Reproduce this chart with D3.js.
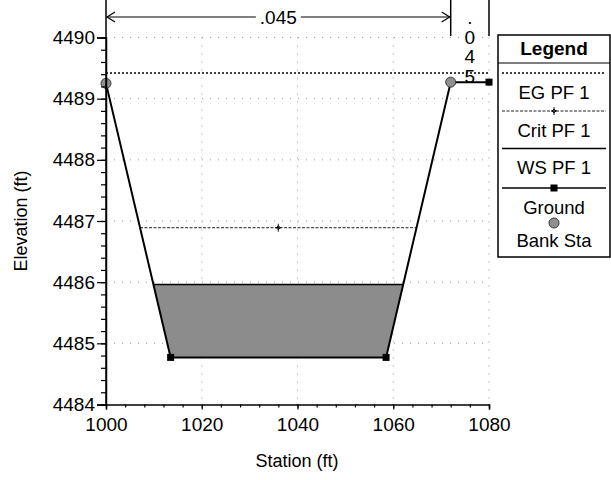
<!DOCTYPE html>
<html>
<head>
<meta charset="utf-8">
<script src="https://cdn.jsdelivr.net/npm/d3@7"></script>
<style>
  body { margin: 0; background: #fff; }
  svg { display: block; }
  text { font-family: "Liberation Sans", Arial, sans-serif; fill: #000; }
</style>
</head>
<body>
<svg id="chart" width="611" height="480"></svg>
<script>
// Cross-section ground geometry (station ft, elevation ft)
const groundStation = [1000, 1013.5, 1058.5, 1072, 1080];
const groundElev    = [4489.25, 4484.77, 4484.77, 4489.27, 4489.27];
const bankStations  = [1000, 1072];

// Profile PF 1 water levels (ft)
const egElev   = 4489.42;
const critElev = 4486.89;
const wsElev   = 4485.96;

// Manning's n regions
const nBreaks = [1000, 1072, 1080];
const nValues = [".045", ".045"];

// Axis ticks
const xTicks = [1000, 1020, 1040, 1060, 1080];
const yTicks = [4484, 4485, 4486, 4487, 4488, 4489, 4490];
const xMinorStep = 4;
const yMinorStep = 0.2;

const legendLabels = ["EG PF 1", "Crit PF 1", "WS PF 1", "Ground", "Bank Sta"];

const svg = d3.select("#chart");
const x = d3.scaleLinear().domain([1000, 1080]).range([106, 489]);
const y = d3.scaleLinear().domain([4484, 4490]).range([404.5, 37.5]);

const ground = groundStation.map((s, i) => ({ s, z: groundElev[i] }));

// Where a horizontal water level meets the ground on each side of the channel
function waterEdges(z) {
  const iMin = d3.minIndex(ground, d => d.z);
  let left = null, right = null;
  for (let i = iMin; i > 0; i--) {
    const a = ground[i], b = ground[i - 1];
    if (b.z >= z) { left = a.s + (b.s - a.s) * (z - a.z) / (b.z - a.z); break; }
  }
  for (let i = iMin; i < ground.length - 1; i++) {
    const a = ground[i], b = ground[i + 1];
    if (b.z >= z) { right = a.s + (b.s - a.s) * (z - a.z) / (b.z - a.z); break; }
  }
  return [left, right];
}

// Grid
const grid = svg.append("g").attr("stroke", "#999").attr("stroke-width", 1)
  .attr("stroke-dasharray", "1,7");
yTicks.slice(1).forEach(v => grid.append("line")
  .attr("x1", x(1000)).attr("x2", x(1080)).attr("y1", y(v)).attr("y2", y(v)));
xTicks.slice(1).forEach(v => grid.append("line")
  .attr("x1", x(v)).attr("x2", x(v)).attr("y1", y(4490)).attr("y2", y(4484)));

// Water area below WS
const [wsL, wsR] = waterEdges(wsElev);
const waterPoly = [{ s: wsL, z: wsElev }]
  .concat(ground.filter(d => d.s > wsL && d.s < wsR))
  .concat([{ s: wsR, z: wsElev }]);
svg.append("path")
  .attr("d", d3.line().x(d => x(d.s)).y(d => y(d.z))(waterPoly) + "Z")
  .attr("fill", "#8c8c8c");
svg.append("line")
  .attr("x1", x(wsL)).attr("x2", x(wsR)).attr("y1", y(wsElev)).attr("y2", y(wsElev))
  .attr("stroke", "#000").attr("stroke-width", 1.5);

// Critical depth line
const [crL, crR] = waterEdges(critElev);
svg.append("line")
  .attr("x1", x(crL)).attr("x2", x(crR)).attr("y1", y(critElev)).attr("y2", y(critElev))
  .attr("stroke", "#222").attr("stroke-width", 1).attr("stroke-dasharray", "3,1.5");
function critMarker(g, cx, cy) {
  g.append("path")
    .attr("d", `M${cx - 3},${cy}L${cx + 3},${cy}M${cx},${cy - 4}L${cx},${cy + 4}M${cx - 2},${cy}L${cx},${cy - 2}L${cx + 2},${cy}L${cx},${cy + 2}Z`)
    .attr("fill", "none").attr("stroke", "#000").attr("stroke-width", 0.9);
}
critMarker(svg, x((crL + crR) / 2), y(critElev));

// Energy grade line
svg.append("line")
  .attr("x1", x(1000)).attr("x2", x(1080)).attr("y1", y(egElev)).attr("y2", y(egElev))
  .attr("stroke", "#000").attr("stroke-width", 1.6).attr("stroke-dasharray", "2,2");

// Ground line and points
svg.append("path")
  .attr("d", d3.line().x(d => x(d.s)).y(d => y(d.z))(ground))
  .attr("fill", "none").attr("stroke", "#000").attr("stroke-width", 2);
svg.selectAll("rect.gpt").data(ground.filter(d => !bankStations.includes(d.s)))
  .join("rect").attr("class", "gpt")
  .attr("x", d => x(d.s) - 3.5).attr("y", d => y(d.z) - 3.5)
  .attr("width", 7).attr("height", 7).attr("fill", "#000");

// Bank stations
function bankMarker(g, cx, cy) {
  g.append("circle").attr("cx", cx).attr("cy", cy).attr("r", 5)
    .attr("fill", "#8f8f8f").attr("stroke", "#3a3a3a").attr("stroke-width", 1);
}
ground.filter(d => bankStations.includes(d.s)).forEach(d => bankMarker(svg, x(d.s), y(d.z)));

// Axes
const fontSize = 19;
svg.append("g").attr("transform", `translate(${x(1000)},0)`)
  .call(d3.axisLeft(y).tickValues(yTicks).tickSize(9).tickPadding(2).tickFormat(d3.format("d")));
svg.append("g").attr("transform", `translate(${x(1000)},0)`)
  .call(d3.axisLeft(y).tickValues(d3.range(4484, 4490.01, yMinorStep)).tickSize(5).tickFormat(""))
  .call(g => g.select(".domain").remove());
svg.append("g").attr("transform", `translate(0,${y(4484)})`)
  .call(d3.axisBottom(x).tickValues(xTicks).tickSize(5).tickPadding(8).tickFormat(d3.format("d")));
svg.append("g").attr("transform", `translate(0,${y(4484)})`)
  .call(d3.axisBottom(x).tickValues(d3.range(1000, 1080.01, xMinorStep)).tickSize(3).tickFormat(""))
  .call(g => g.select(".domain").remove());
svg.selectAll(".tick line").attr("stroke", "#000").attr("stroke-width", 1.2);
svg.selectAll(".domain").attr("stroke", "#000").attr("stroke-width", 1.5);
svg.selectAll(".tick text").attr("font-size", fontSize).attr("fill", "#000")
  .attr("font-family", "'Liberation Sans', Arial, sans-serif");

// Axis titles
svg.append("text").attr("x", 297).attr("y", 467).attr("text-anchor", "middle")
  .attr("font-size", 18).text("Station (ft)");
svg.append("text").attr("transform", `translate(27,${(y(4484) + y(4490)) / 2}) rotate(-90)`)
  .attr("text-anchor", "middle").attr("font-size", 18).text("Elevation (ft)");

// Manning's n region markers
const nTop = 0, nBottom = 36, arrowY = 17;
svg.append("line").attr("x1", x(nBreaks[0])).attr("x2", x(nBreaks[0]))
  .attr("y1", nTop).attr("y2", y(4484)).attr("stroke", "#000").attr("stroke-width", 1.5);
nBreaks.slice(1).forEach(b => svg.append("line").attr("x1", x(b)).attr("x2", x(b))
  .attr("y1", nTop).attr("y2", nBottom).attr("stroke", "#000").attr("stroke-width", 1.5));
{
  const x0 = x(nBreaks[0]), x1 = x(nBreaks[1]), xm = (x0 + x1) / 2;
  const label = svg.append("text").attr("x", xm).attr("y", arrowY + 7)
    .attr("text-anchor", "middle").attr("font-size", fontSize).text(nValues[0]);
  const w = label.node().getComputedTextLength() / 2 + 4;
  const a = svg.append("g").attr("stroke", "#000").attr("stroke-width", 1.2).attr("fill", "none");
  a.append("line").attr("x1", x0 + 1).attr("x2", xm - w).attr("y1", arrowY).attr("y2", arrowY);
  a.append("line").attr("x1", xm + w).attr("x2", x1 - 1).attr("y1", arrowY).attr("y2", arrowY);
  a.append("path").attr("d", `M${x0 + 9},${arrowY - 5}L${x0 + 1},${arrowY}L${x0 + 9},${arrowY + 5}`);
  a.append("path").attr("d", `M${x1 - 9},${arrowY - 5}L${x1 - 1},${arrowY}L${x1 - 9},${arrowY + 5}`);

  // narrow right overbank: value written down the column
  const xc = (x(nBreaks[1]) + x(nBreaks[2])) / 2;
  const vt = svg.append("text").attr("text-anchor", "middle").attr("font-size", fontSize);
  nValues[1].split("").forEach((ch, i) => vt.append("tspan")
    .attr("x", xc).attr("y", 24 + i * 19.5).text(ch));
}

// Legend
const lg = svg.append("g");
const lgX0 = 498, lgX1 = 610, lgY0 = 35, lgY1 = 257, lgXc = (lgX0 + lgX1) / 2;
lg.append("rect").attr("x", lgX0).attr("y", lgY0).attr("width", lgX1 - lgX0).attr("height", lgY1 - lgY0)
  .attr("fill", "#fff").attr("stroke", "#000").attr("stroke-width", 1.5);
lg.append("line").attr("x1", lgX0).attr("x2", lgX1).attr("y1", 63).attr("y2", 63)
  .attr("stroke", "#000").attr("stroke-width", 1.2);
lg.append("text").attr("x", lgXc).attr("y", 55).attr("text-anchor", "middle")
  .attr("font-size", 19).attr("font-weight", "bold").text("Legend");
const sampleY = [73, 111, 148.5, 188, 223];
const labelY = [98.5, 136.5, 173.5, 213.5, 246.5];
const sx0 = lgX0 + 4, sx1 = lgX1 - 4;
lg.append("line").attr("x1", sx0).attr("x2", sx1).attr("y1", sampleY[0]).attr("y2", sampleY[0])
  .attr("stroke", "#000").attr("stroke-width", 1.6).attr("stroke-dasharray", "2,2");
lg.append("line").attr("x1", sx0).attr("x2", sx1).attr("y1", sampleY[1]).attr("y2", sampleY[1])
  .attr("stroke", "#222").attr("stroke-width", 1).attr("stroke-dasharray", "3,1.5");
critMarker(lg, lgXc, sampleY[1]);
lg.append("line").attr("x1", sx0).attr("x2", sx1).attr("y1", sampleY[2]).attr("y2", sampleY[2])
  .attr("stroke", "#000").attr("stroke-width", 1.5);
lg.append("line").attr("x1", sx0).attr("x2", sx1).attr("y1", sampleY[3]).attr("y2", sampleY[3])
  .attr("stroke", "#000").attr("stroke-width", 1.5);
lg.append("rect").attr("x", lgXc - 3.5).attr("y", sampleY[3] - 3.5).attr("width", 7).attr("height", 7)
  .attr("fill", "#000");
bankMarker(lg, lgXc, sampleY[4]);
legendLabels.forEach((t, i) => lg.append("text").attr("x", lgXc).attr("y", labelY[i])
  .attr("text-anchor", "middle").attr("font-size", 18.5).text(t));
</script>
</body>
</html>
